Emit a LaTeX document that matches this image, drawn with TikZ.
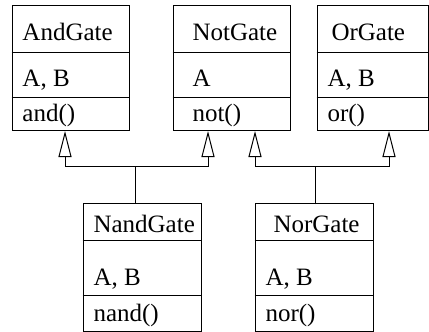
\documentclass[tikz,border=0pt]{standalone}
\usepackage{fontspec}
\setmainfont{Liberation Serif}
\usetikzlibrary{arrows.meta}
\begin{document}
\begin{tikzpicture}[x=1pt,y=-1pt,line width=1pt,
  cls/.style={draw,rectangle,inner sep=0pt},
  lbl/.style={anchor=base west,inner sep=0pt,font=\fontsize{25}{29}\selectfont},
  inh/.style={-{Triangle[open,length=26pt,width=13pt,fill=white]}}]
\useasboundingbox (0,0) rectangle (429,332);
% class boxes
\node[cls,minimum width=117pt,minimum height=125pt] (and) at (70.5,67.5) {};
\node[cls,minimum width=117pt,minimum height=125pt] (not) at (231.5,67.5) {};
\node[cls,minimum width=111pt,minimum height=125pt] (or) at (372.5,67.5) {};
\node[cls,minimum width=118pt,minimum height=128pt] (nand) at (142,267) {};
\node[cls,minimum width=118pt,minimum height=128pt] (nor) at (314,267) {};
% dividers
\foreach \b in {and,not,or}{
  \draw (\b.west |- 0,52) -- (\b.east |- 0,52);
  \draw (\b.west |- 0,97) -- (\b.east |- 0,97);
}
\foreach \b in {nand,nor}{
  \draw (\b.west |- 0,240) -- (\b.east |- 0,240);
  \draw (\b.west |- 0,295) -- (\b.east |- 0,295);
}
% texts
\node[lbl] (t1) at (22,40) {AndGate};
\node[lbl] (t2) at (22,86) {A, B};
\node[lbl] (t3) at (22,121) {and()};
\node[lbl] (t4) at (192,40) {NotGate};
\node[lbl] (t5) at (192,86) {A};
\node[lbl] (t6) at (192,121) {not()};
\node[lbl] (t7) at (331,40) {OrGate};
\node[lbl] (t8) at (327,86) {A, B};
\node[lbl] (t9) at (327,121) {or()};
\node[lbl] (t10) at (93,232) {NandGate};
\node[lbl] (t11) at (93,285) {A, B};
\node[lbl] (t12) at (93,321) {nand()};
\node[lbl] (t13) at (273,232) {NorGate};
\node[lbl] (t14) at (265,285) {A, B};
\node[lbl] (t15) at (265,321) {nor()};
% connector points
\coordinate (a1) at (65,131);
\coordinate (b1) at (208,131);
\coordinate (b2) at (255,131);
\coordinate (c1) at (389,131);
\coordinate (n1) at (135,203);
\coordinate (m1) at (315,204);
\coordinate (h1) at (0,166);
\draw[inh] (n1) -- (n1 |- h1) -| (a1);
\draw[inh] (n1) -- (n1 |- h1) -| (b1);
\draw[inh] (m1) -- (m1 |- h1) -| (b2);
\draw[inh] (m1) -- (m1 |- h1) -| (c1);
\end{tikzpicture}
\end{document}
